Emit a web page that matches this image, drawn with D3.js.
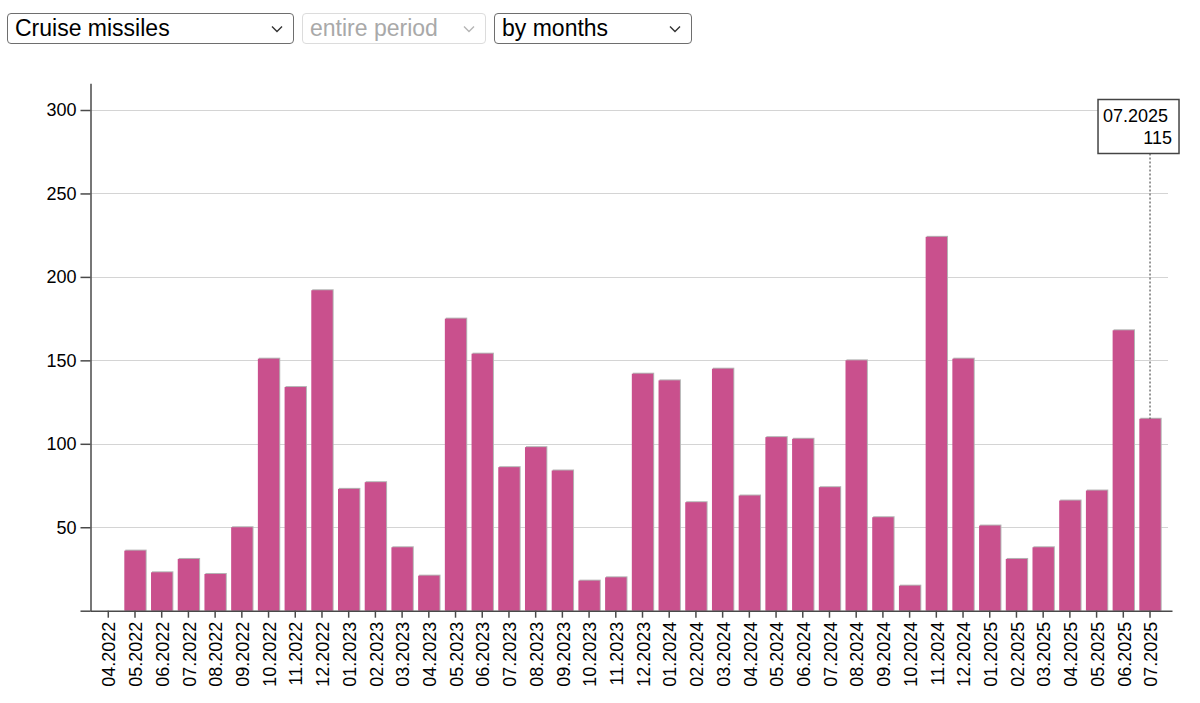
<!DOCTYPE html>
<html>
<head>
<meta charset="utf-8">
<script src="https://cdn.jsdelivr.net/npm/d3@7"></script>
<style>
  html, body { margin: 0; padding: 0; background: #fff; }
  body { width: 1200px; height: 703px; position: relative; overflow: hidden; font-family: "Liberation Sans", Arial, Helvetica, sans-serif; }
  .sel { position: absolute; top: 13px; height: 31px; box-sizing: border-box; border: 1.5px solid #6e6e6e; border-radius: 4px; background: #fff; font-size: 23px; line-height: 28px; padding-left: 7px; color: #000; white-space: nowrap; }
  .sel.disabled { border-color: #dcdcdc; color: #a9a9a9; }
  .sel svg { position: absolute; top: 11px; }
  svg#chart { position: absolute; left: 0; top: 0; }
  .axis text { font-family: "Liberation Sans", Arial, Helvetica, sans-serif; font-size: 18px; fill: #000; }
</style>
</head>
<body>
<div id="controls"></div>
<svg id="chart" width="1200" height="703"></svg>
<script>
const months = ["04.2022","05.2022","06.2022","07.2022","08.2022","09.2022","10.2022","11.2022","12.2022",
  "01.2023","02.2023","03.2023","04.2023","05.2023","06.2023","07.2023","08.2023","09.2023","10.2023","11.2023","12.2023",
  "01.2024","02.2024","03.2024","04.2024","05.2024","06.2024","07.2024","08.2024","09.2024","10.2024","11.2024","12.2024",
  "01.2025","02.2025","03.2025","04.2025","05.2025","06.2025","07.2025"];
const values = [0,36,23,31,22,50,151,134,192,
  73,77,38,21,175,154,86,98,84,18,20,142,
  138,65,145,69,104,103,74,150,56,15,224,151,
  51,31,38,66,72,168,115];
const yTicks = [50,100,150,200,250,300];
const selectLabels = ["Cruise missiles","entire period","by months"];
const selectDisabled = [false,true,false];
const selectBoxes = [[7,287],[302,184],[494,198]];

// controls
const ctrl = d3.select("#controls");
selectLabels.forEach((t,i)=>{
  const d = ctrl.append("div").attr("class","sel"+(selectDisabled[i]?" disabled":""))
    .style("left",selectBoxes[i][0]+"px").style("width",selectBoxes[i][1]+"px").text(t);
  const s = d.append("svg").attr("width",12).attr("height",8).style("right","10px");
  s.append("path").attr("d","M1,1.5 L6,6.5 L11,1.5").attr("fill","none")
    .attr("stroke", selectDisabled[i] ? "#b5b5b5" : "#333").attr("stroke-width",1.4);
});

const svg = d3.select("#chart");
const x = d3.scaleBand().domain(months).range([97.6, 1160.7]).paddingInner(0.2).paddingOuter(0);
const y = d3.scaleLinear().domain([0, 316]).range([610.7, 83.3]);
const axisX0 = 90.5, axisY0 = 610.7;

// grid
svg.append("g").selectAll("line").data(yTicks).join("line")
  .attr("x1", axisX0).attr("x2", 1168)
  .attr("y1", d=>Math.round(y(d))+0.5).attr("y2", d=>Math.round(y(d))+0.5)
  .attr("stroke","#d4d4d4").attr("stroke-width",1.2);

// bars: shadow + fill
const bars = svg.append("g");
bars.selectAll("rect.sh").data(values.map((v,i)=>({m:months[i],v}))).join("rect")
  .attr("class","sh")
  .attr("x", d=>x(d.m)+1).attr("width", x.bandwidth())
  .attr("y", d=>y(d.v)-1).attr("height", d=>d.v>0 ? axisY0 - y(d.v)+1 : 0)
  .attr("fill","#b4b4b4");
bars.selectAll("rect.bar").data(values.map((v,i)=>({m:months[i],v}))).join("rect")
  .attr("class","bar")
  .attr("x", d=>x(d.m)).attr("width", x.bandwidth())
  .attr("y", d=>y(d.v)).attr("height", d=>axisY0 - y(d.v))
  .attr("fill","#c9508d");

// y axis
const yAxis = svg.append("g").attr("class","axis").attr("transform",`translate(${axisX0},0)`)
  .call(d3.axisLeft(y).tickValues([0].concat(yTicks)).tickSize(10).tickPadding(4).tickSizeOuter(0)
    .tickFormat(d=> d===0 ? "" : d));
yAxis.select(".domain").attr("stroke","#4a4a4a").attr("stroke-width",1.5);
yAxis.selectAll(".tick line").attr("stroke","#4a4a4a").attr("stroke-width",1.5);

// x axis
const xAxis = svg.append("g").attr("class","axis").attr("transform",`translate(0,${axisY0})`)
  .call(d3.axisBottom(x).tickSize(7).tickSizeOuter(0));
xAxis.select(".domain").attr("d", `M${axisX0},0.5H1172.5`).attr("stroke","#4a4a4a").attr("stroke-width",1.5);
xAxis.selectAll(".tick line").attr("stroke","#4a4a4a").attr("stroke-width",1.5);
xAxis.selectAll(".tick text")
  .attr("transform","rotate(-90)")
  .attr("text-anchor","end")
  .attr("x",-11).attr("y",0).attr("dy","0.4em");

// tooltip for last month
const last = months.length-1;
const cx = x(months[last]) + x.bandwidth()/2;
const topY = y(values[last]);
const tip = svg.append("g");
tip.append("line").attr("x1",cx).attr("x2",cx).attr("y1",153.5).attr("y2",topY)
  .attr("stroke","#333").attr("stroke-width",1).attr("stroke-dasharray","2,2");
tip.append("rect").attr("x",cx-52).attr("y",99.5).attr("width",81).attr("height",54)
  .attr("fill","#fff").attr("stroke","#444").attr("stroke-width",1.5);
tip.append("text").attr("x",cx-47).attr("y",122).attr("font-size",18)
  .attr("font-family","Liberation Sans, Arial, sans-serif").text(months[last]);
tip.append("text").attr("x",cx+22).attr("y",143.5).attr("font-size",18).attr("text-anchor","end")
  .attr("font-family","Liberation Sans, Arial, sans-serif").text(values[last]);
</script>
</body>
</html>
